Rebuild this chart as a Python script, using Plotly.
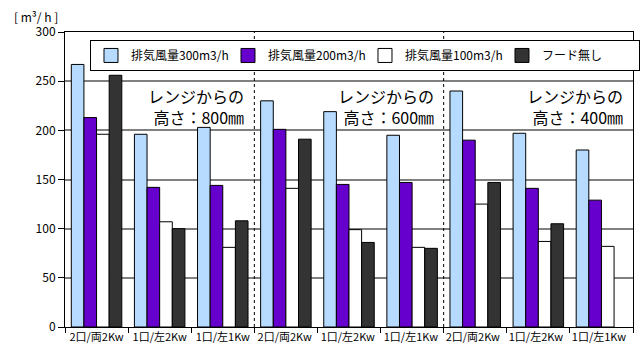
import plotly.graph_objects as go

categories = ["2口/両2Kw", "1口/左2Kw", "1口/左1Kw",
              "2口/両2Kw ", "1口/左2Kw ", "1口/左1Kw ",
              "2口/両2Kw  ", "1口/左2Kw  ", "1口/左1Kw  "]
series_names = ["排気風量300m3/h", "排気風量200m3/h", "排気風量100m3/h", "フード無し"]
flow300 = [267, 196, 203, 230, 219, 195, 240, 197, 180]
flow200 = [213, 142, 144, 201, 145, 147, 190, 141, 129]
flow100 = [196, 107, 81, 141, 99, 81, 125, 87, 82]
no_hood = [256, 100, 108, 191, 86, 80, 147, 105, None]
section_labels = ["レンジからの<br>高さ：800㎜", "レンジからの<br>高さ：600㎜", "レンジからの<br>高さ：400㎜"]
colors = ["#B7DBFF", "#6600CC", "#FFFFFF", "#333333"]

FONT = "Noto Sans CJK JP, Noto Sans, sans-serif"

fig = go.Figure()
for name, vals, col in zip(series_names, [flow300, flow200, flow100, no_hood], colors):
    fig.add_trace(go.Bar(x=categories, y=vals, name=name, showlegend=False,
                         marker=dict(color=col, line=dict(color="black", width=1))))
# legend entries (larger square swatches)
for name, col in zip(series_names, colors):
    fig.add_trace(go.Scatter(x=[None], y=[None], name=name, mode="markers",
                             marker=dict(symbol="square", size=14, color=col,
                                         line=dict(color="black", width=1)),
                             hoverinfo="skip"))

fig.update_layout(
    width=640, height=346,
    margin=dict(l=65, r=7, t=32, b=19, autoexpand=False),
    paper_bgcolor="white", plot_bgcolor="white",
    barmode="group", bargap=0.2, bargroupgap=0,
    font=dict(family=FONT, size=11, color="black"),
    showlegend=True,
    legend=dict(orientation="h", x=0.044, y=0.973, xanchor="left", yanchor="top",
                bgcolor="white", bordercolor="black", borderwidth=1,
                font=dict(size=12, family=FONT), entrywidth=92, entrywidthmode="pixels",
                traceorder="normal", itemsizing="trace"),
)
fig.update_xaxes(type="category", range=[-0.5, 8.5], showline=True, linecolor="black",
                 linewidth=1, mirror=True,
                 ticks="outside", tickson="boundaries", ticklen=5, tickcolor="black",
                 tickangle=0, automargin=False,
                 tickfont=dict(size=11, family=FONT), showgrid=False)
fig.update_yaxes(range=[0, 300], dtick=50, showline=True, linecolor="black", linewidth=1, mirror=True,
                 ticks="outside", ticklen=6, tickcolor="black", automargin=False,
                 showgrid=True, gridcolor="#808080", gridwidth=1.5,
                 zeroline=True, zerolinecolor="black", zerolinewidth=1,
                 tickfont=dict(size=12, family=FONT))

for xb in [2.5, 5.5]:
    fig.add_shape(type="line", xref="x", yref="y", x0=xb, x1=xb, y0=0, y1=300,
                  line=dict(color="black", width=1, dash="dot"), layer="above")

# legend drop shadow
fig.add_shape(type="rect", xref="paper", yref="paper", x0=0.0475, x1=0.993, y0=0.872, y1=0.966,
              fillcolor="black", line=dict(width=0), layer="above")

for i, lab in enumerate(section_labels):
    fig.add_annotation(x=3 * i + 2.5, y=249, xref="x", yref="y", text=lab, showarrow=False,
                       xanchor="right", yanchor="top", align="right", xshift=-8,
                       font=dict(size=16, family=FONT, color="black"))

fig.add_annotation(x=0, y=1, xref="paper", yref="paper", xshift=-53, yshift=16,
                   text="[ m³/ h ]", showarrow=False, xanchor="left", yanchor="middle",
                   font=dict(size=12, family=FONT, color="black"))

fig.write_html("out.html")
